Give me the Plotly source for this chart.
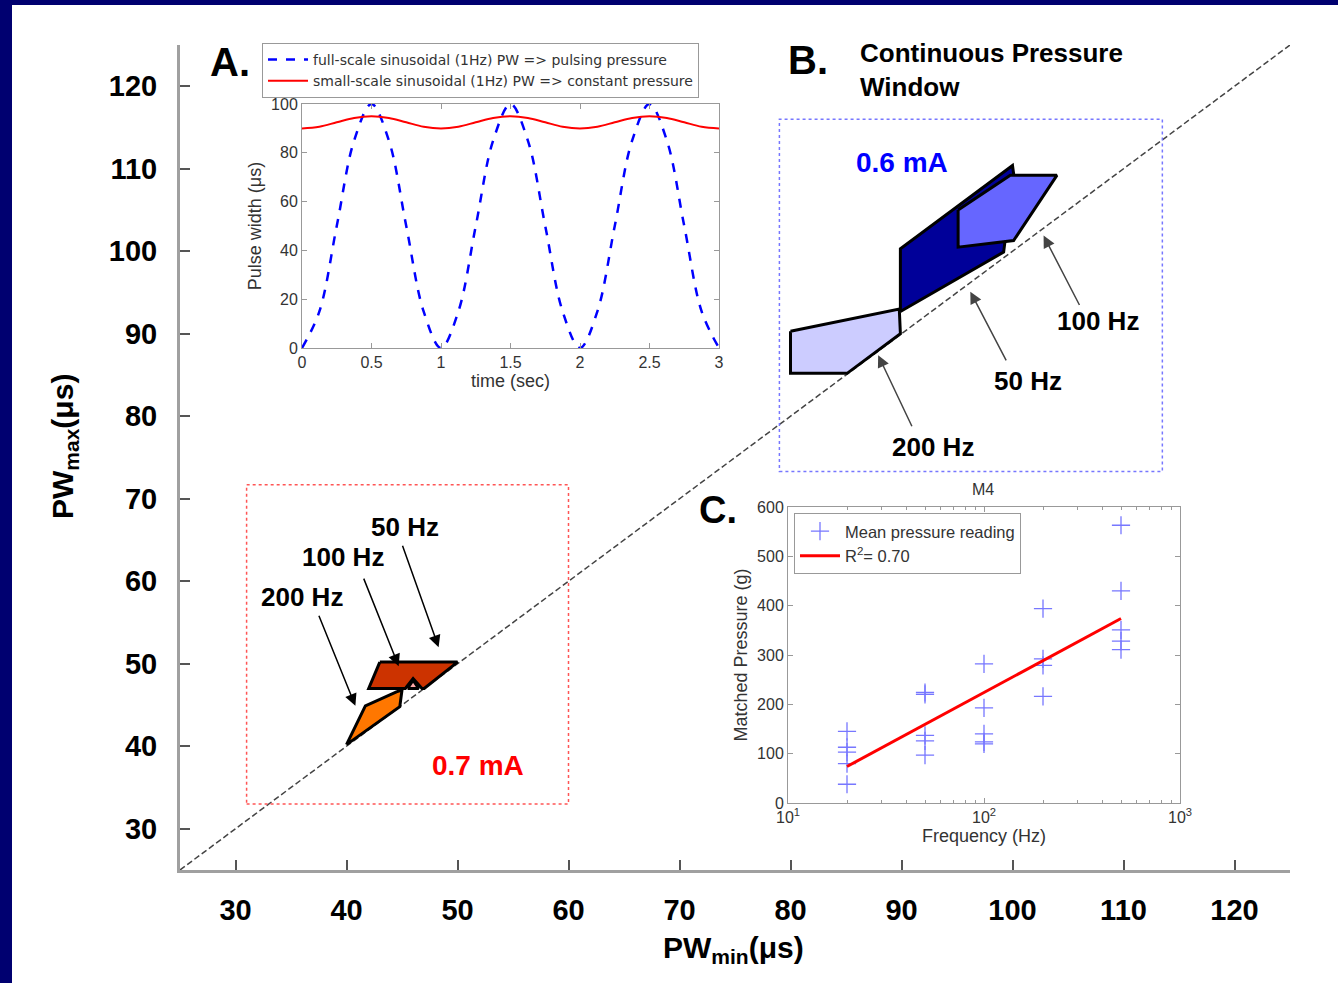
import plotly.graph_objects as go

# ---------------- data ----------------
unity = [25, 125]

# 0.7 mA windows (PWmin, PWmax)
w07_200_x = [40.0, 41.7, 44.5, 45.0, 44.8, 40.0]
w07_200_y = [40.2, 44.9, 46.6, 46.8, 44.8, 40.2]
w07_100_x = [43.0, 50.0, 47.0, 46.8, 46.0, 45.3, 42.0, 43.0]
w07_100_y = [50.2, 50.2, 47.0, 47.0, 48.2, 47.0, 47.0, 50.2]
w07_50_x = [45.5, 46.0, 46.5, 45.5]
w07_50_y = [47.0, 48.0, 47.0, 47.0]

# 0.6 mA windows
w06_200_x = [80.0, 89.8, 89.9, 85.1, 80.0, 80.0]
w06_200_y = [90.3, 93.0, 90.0, 85.2, 85.2, 90.3]
w06_50_x = [89.9, 89.9, 100.0, 100.1, 99.2, 89.9]
w06_50_y = [92.7, 100.3, 110.4, 109.4, 99.9, 92.7]
w06_100_x = [95.1, 99.8, 104.0, 100.1, 95.1, 95.1]
w06_100_y = [105.0, 109.2, 109.2, 101.3, 100.5, 105.0]

# Inset A: sinusoidal pulse width (read every 1/8 s)
t_sec = [i / 8 for i in range(25)]
pw_full = [0, 15, 50, 85, 100, 85, 50, 15,
           0, 15, 50, 85, 100, 85, 50, 15,
           0, 15, 50, 85, 100, 85, 50, 15, 0]
pw_small = [90, 90.7, 92.5, 94.3, 95, 94.3, 92.5, 90.7,
            90, 90.7, 92.5, 94.3, 95, 94.3, 92.5, 90.7,
            90, 90.7, 92.5, 94.3, 95, 94.3, 92.5, 90.7, 90]

# Inset C: matched pressure vs frequency
freq = [20] * 5 + [50] * 5 + [100] * 5 + [200] * 4 + [500] * 5
pressure = [145, 113, 103, 80, 38,
            224, 220, 137, 126, 97,
            282, 193, 140, 124, 120,
            394, 292, 279, 216,
            563, 430, 351, 328, 311]
fit_x = [20, 500]
fit_y = [74, 374]

main_ticks = [30, 40, 50, 60, 70, 80, 90, 100, 110, 120]
minor_log_ticks = [20, 30, 40, 50, 60, 70, 80, 90, 200, 300, 400, 500, 600, 700, 800, 900]

FONT = "Liberation Sans, Arial, sans-serif"

# ---------------- figure ----------------
fig = go.Figure()

fig.add_trace(go.Scatter(x=unity, y=unity, mode="lines",
                         line=dict(color="#444444", width=1.5, dash="6px,3px"),
                         showlegend=False, hoverinfo="skip"))


def poly(xs, ys, color):
    fig.add_trace(go.Scatter(x=xs, y=ys, mode="lines", fill="toself",
                             fillcolor=color, line=dict(color="black", width=3),
                             showlegend=False))


poly(w07_200_x, w07_200_y, "#ff7700")
poly(w07_100_x, w07_100_y, "#cc3300")
poly(w07_50_x, w07_50_y, "#ffaaaa")
poly(w06_200_x, w06_200_y, "#ccccff")
poly(w06_50_x, w06_50_y, "#000099")
poly(w06_100_x, w06_100_y, "#6666ff")

# inset A
fig.add_trace(go.Scatter(x=t_sec, y=pw_full, mode="lines", line_shape="spline",
                         line=dict(color="#0000ff", width=2.5, dash="dash"),
                         name="full-scale sinusoidal (1Hz) PW => pulsing pressure",
                         xaxis="x2", yaxis="y2", legend="legend"))
fig.add_trace(go.Scatter(x=t_sec, y=pw_small, mode="lines", line_shape="spline",
                         line=dict(color="#ff0000", width=2),
                         name="small-scale sinusoidal (1Hz) PW => constant pressure",
                         xaxis="x2", yaxis="y2", legend="legend"))

# inset C
fig.add_trace(go.Scatter(x=freq, y=pressure, mode="markers",
                         marker=dict(symbol="cross-thin", size=13,
                                     line=dict(color="#7777ff", width=1.3)),
                         name="Mean pressure reading",
                         xaxis="x3", yaxis="y3", legend="legend2"))
fig.add_trace(go.Scatter(x=fit_x, y=fit_y, mode="lines",
                         line=dict(color="#ff0000", width=3),
                         name="R<sup>2</sup>= 0.70",
                         xaxis="x3", yaxis="y3", legend="legend2"))

L, R, T, B = 180, 48, 45, 113
W, H = 1338, 983
PW, PH = W - L - R, H - T - B


def px(xp):
    return (xp - L) / PW


def py(yp):
    return (H - B - yp) / PH


main_axis = dict(showline=True, linecolor="#a0a0a0", linewidth=3,
                 ticks="inside", ticklen=10, tickcolor="#555555", tickwidth=1.5,
                 showgrid=False, zeroline=False, range=[25, 125],
                 tickvals=main_ticks,
                 tickfont=dict(family=FONT, size=29, color="black", weight="bold"))

inset_axis = dict(showline=True, linecolor="#999999", linewidth=1, mirror="ticks",
                  ticks="inside", ticklen=5, tickcolor="#999999",
                  showgrid=False, zeroline=False,
                  tickfont=dict(family=FONT, size=16, color="#333333"),
                  title_font=dict(family=FONT, size=18, color="#333333"))

fig.update_layout(
    width=W, height=H,
    margin=dict(l=L, r=R, t=T, b=B),
    paper_bgcolor="#000070", plot_bgcolor="white",
    font=dict(family=FONT),
    xaxis=dict(**main_axis, domain=[0, 1], anchor="y", ticklabelstandoff=12),
    yaxis=dict(**main_axis, domain=[0, 1], anchor="x", ticklabelstandoff=14),
    xaxis2=dict(**inset_axis, domain=[px(302), px(719)], anchor="y2",
                range=[0, 3], dtick=0.5,
                title=dict(text="time (sec)", standoff=0)),
    yaxis2=dict(**inset_axis, domain=[py(348), py(104)], anchor="x2",
                range=[0, 100], dtick=20,
                title=dict(text="Pulse width (μs)", standoff=4)),
    xaxis3=dict(**inset_axis, domain=[px(788), px(1180)], anchor="y3",
                type="log", range=[1, 3],
                tickvals=[10, 100, 1000],
                ticktext=["10<sup>1</sup>", "10<sup>2</sup>", "10<sup>3</sup>"],
                minor=dict(ticks="inside", ticklen=3, tickcolor="#999999",
                           tickvals=minor_log_ticks),
                title=dict(text="Frequency (Hz)", standoff=2)),
    yaxis3=dict(**inset_axis, domain=[py(803), py(507)], anchor="x3",
                range=[0, 600], dtick=100,
                title=dict(text="Matched Pressure (g)", standoff=4)),
    legend=dict(x=px(262), y=py(43), xanchor="left", yanchor="top",
                bgcolor="white", bordercolor="#999999", borderwidth=1,
                font=dict(family="DejaVu Sans, sans-serif", size=14, color="#333333"),
                tracegroupgap=0, itemwidth=40),
    legend2=dict(x=px(794), y=py(513), xanchor="left", yanchor="top",
                 bgcolor="white", bordercolor="#999999", borderwidth=1,
                 font=dict(family=FONT, size=16.5, color="#333333"),
                 itemwidth=40),
)

# white panel + dotted boxes
fig.add_shape(type="rect", xref="paper", yref="paper",
              x0=px(12), x1=px(W + 5), y0=py(H + 5), y1=py(5),
              fillcolor="white", line=dict(width=0), layer="below")
fig.add_shape(type="rect", xref="x", yref="y", x0=31, x1=60, y0=33, y1=71.7,
              line=dict(color="#ff5555", width=1.5, dash="dot"))
fig.add_shape(type="rect", xref="x", yref="y", x0=79, x1=113.5, y0=73.3, y1=116,
              line=dict(color="#7777ff", width=1.5, dash="dot"))

ann = []


def text(x, y, s, size=26, color="black", ref="data", **kw):
    d = dict(x=x, y=y, text=s, showarrow=False, xanchor="center", yanchor="middle",
             font=dict(family=FONT, size=size, color=color, weight="bold"))
    if ref == "data":
        d.update(xref="x", yref="y")
    else:
        d.update(xref="paper", yref="paper")
    d.update(kw)
    ann.append(d)


def arrow(tx, ty, hx, hy, color="black"):
    ann.append(dict(x=hx, y=hy, ax=tx, ay=ty, xref="x", yref="y",
                    axref="x", ayref="y", text="", showarrow=True,
                    arrowhead=2, arrowsize=1.6, arrowwidth=1.5,
                    arrowcolor=color))


# 0.7 mA labels
text(45.3, 66.6, "50 Hz")
text(39.7, 62.9, "100 Hz")
text(36.0, 58.1, "200 Hz")
text(51.85, 37.7, "0.7 mA", size=28, color="#ff0000")
arrow(37.46, 56.0, 40.8, 44.9)
arrow(41.5, 60.5, 44.7, 49.7)
arrow(45.0, 64.5, 48.3, 52.0)

# 0.6 mA labels
text(90.07, 110.8, "0.6 mA", size=28, color="#0000ff")
text(107.7, 91.55, "100 Hz")
text(101.4, 84.3, "50 Hz")
text(92.8, 76.3, "200 Hz")
arrow(106.1, 93.3, 102.8, 101.9, color="#444444")
arrow(99.5, 86.6, 96.2, 95.1, color="#444444")
arrow(91.0, 78.6, 87.9, 87.4, color="#444444")

# panel letters and titles
text(px(230), py(62), "A.", size=40, ref="paper")
text(px(808), py(60), "B.", size=40, ref="paper")
text(px(718), py(510), "C.", size=38, ref="paper")
text(px(858), py(70), "Continuous Pressure<br>Window", size=26, ref="paper",
     xanchor="left", align="left")
ann.append(dict(x=px(983), y=py(489), xref="paper", yref="paper", text="M4",
                xanchor="center", yanchor="middle",
                showarrow=False, font=dict(family=FONT, size=16, color="#333333")))

# main axis titles
ann.append(dict(x=px(733), y=py(949), xref="paper", yref="paper",
                xanchor="center", yanchor="middle",
                text="PW<sub>min</sub>(μs)", showarrow=False,
                font=dict(family=FONT, size=30, color="black", weight="bold")))
ann.append(dict(x=px(64), y=py(447), xref="paper", yref="paper",
                xanchor="center", yanchor="middle",
                text="PW<sub>max</sub>(μs)", showarrow=False, textangle=-90,
                font=dict(family=FONT, size=30, color="black", weight="bold")))

fig.update_layout(annotations=ann)

fig.write_html("out.html",
               config={"displayModeBar": False},
               post_script="document.body.style.margin='0px';"
                           "document.body.style.overflow='hidden';")
